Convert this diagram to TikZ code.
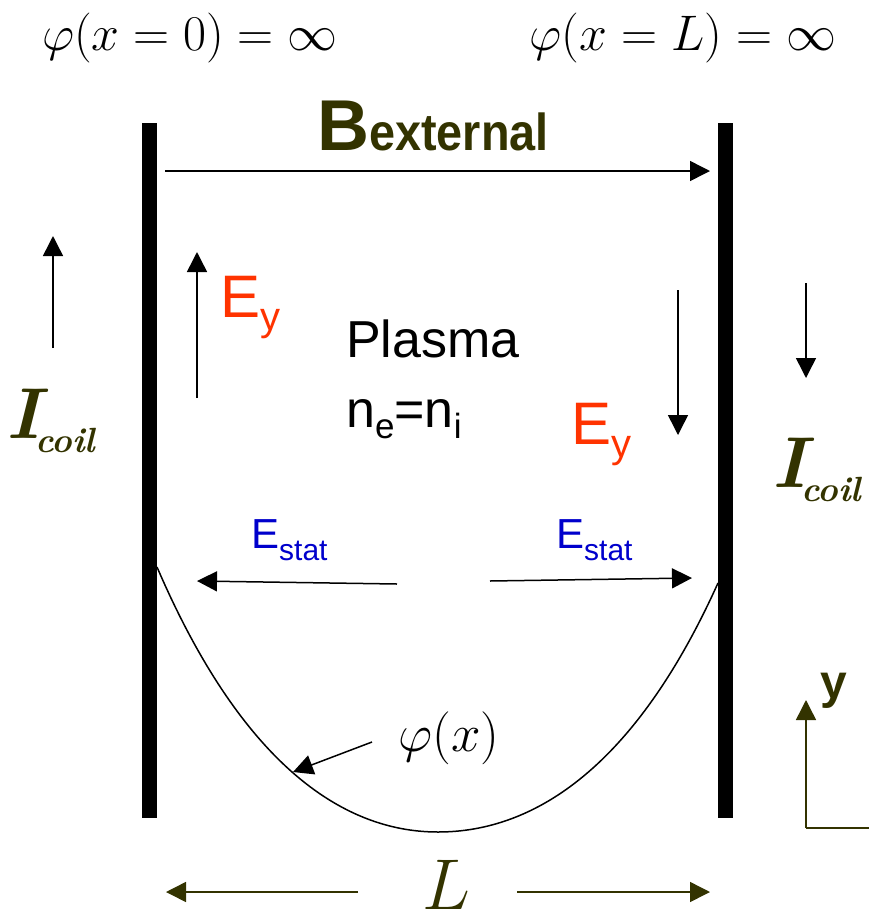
\RequirePackage{fix-cm}
\documentclass[tikz,border=0pt]{standalone}
\usepackage{fontspec}
\usepackage{graphicx}
\usepackage{tikz}
\usepackage{xcolor}
\usetikzlibrary{arrows.meta}

\newfontfamily\arialfont{Liberation Sans}

\begin{document}
\begin{tikzpicture}[x=1pt,y=-1pt,
  arr/.style={-{Triangle[length=20pt,width=20pt]},line width=1.5pt},
  plate/.style={line width=15pt},
  lbl/.style={inner sep=0pt,anchor=base west}]

  % Define colors
  \definecolor{olivedark}{RGB}{51,51,0}
  \definecolor{eyred}{RGB}{255,51,0}
  \definecolor{estatblue}{RGB}{0,0,204}

  \useasboundingbox (0,0) rectangle (869,914);

  % boundary conditions on top
  \node[inner sep=0pt,anchor=base,font=\fontsize{50}{54}\selectfont] (phileft) at (190,50)
    {$\varphi(x=0)=\infty$};
  \node[inner sep=0pt,anchor=base,font=\fontsize{50}{54}\selectfont] (phiright) at (683,50)
    {$\varphi(x=L)=\infty$};

  % the two plates
  \coordinate (pltopl) at (149.5,123);
  \coordinate (plbotl) at (149.5,818);
  \coordinate (pltopr) at (725.5,123);
  \coordinate (plbotr) at (725.5,818);
  \draw[plate] (pltopl) -- (plbotl);
  \draw[plate] (pltopr) -- (plbotr);

  % external field
  \node[lbl,text=olivedark,font=\arialfont\bfseries\fontsize{72}{80}\selectfont] (bext) at (317,150)
    {B\scalebox{0.9}[1]{\fontsize{52}{56}\selectfont external}};
  \coordinate (bstart) at (165,171);
  \coordinate (bend) at (710,171);
  \draw[arr] (bstart) -- (bend);

  % coil currents
  \coordinate (icl1) at (53,348);
  \coordinate (icl2) at (53,236);
  \draw[arr] (icl1) -- (icl2);
  \node[lbl,text=olivedark,font=\bfseries\itshape\fontsize{72}{80}\selectfont] (icoill) at (6,438)
    {I\kern-5pt\raisebox{-14pt}{\fontsize{35}{38}\selectfont coil}};
  \coordinate (icr1) at (806,283);
  \coordinate (icr2) at (806,378);
  \draw[arr] (icr1) -- (icr2);
  \node[lbl,text=olivedark,font=\bfseries\itshape\fontsize{72}{80}\selectfont] (icoilr) at (772,487)
    {I\kern-5pt\raisebox{-14pt}{\fontsize{35}{38}\selectfont coil}};

  % induced fields
  \coordinate (eyl1) at (197,398);
  \coordinate (eyl2) at (197,252);
  \draw[arr] (eyl1) -- (eyl2);
  \node[lbl,text=eyred,font=\arialfont\fontsize{60}{64}\selectfont] (eyleft) at (220,317)
    {E\raisebox{-13pt}{\fontsize{40}{44}\selectfont y}};
  \coordinate (eyr1) at (678,290);
  \coordinate (eyr2) at (678,435);
  \draw[arr] (eyr1) -- (eyr2);
  \node[lbl,text=eyred,font=\arialfont\fontsize{60}{64}\selectfont] (eyright) at (571,444)
    {E\raisebox{-13pt}{\fontsize{40}{44}\selectfont y}};

  % plasma
  \node[lbl,font=\arialfont\fontsize{52}{56}\selectfont] (plasma) at (346,357) {Plasma};
  \node[lbl,font=\arialfont\fontsize{52}{56}\selectfont] (dens) at (346,427)
    {n\raisebox{-11pt}{\fontsize{35}{38}\selectfont e}=n\raisebox{-11pt}{\fontsize{35}{38}\selectfont i}};

  % static fields
  \node[lbl,text=estatblue,font=\arialfont\fontsize{42}{46}\selectfont] (estatl) at (251,548)
    {E\raisebox{-12pt}{\fontsize{30}{34}\selectfont stat}};
  \node[lbl,text=estatblue,font=\arialfont\fontsize{42}{46}\selectfont] (estatr) at (556,548)
    {E\raisebox{-12pt}{\fontsize{30}{34}\selectfont stat}};
  \coordinate (esl1) at (397,584);
  \coordinate (esl2) at (197,581);
  \draw[arr] (esl1) -- (esl2);
  \coordinate (esr1) at (490,581);
  \coordinate (esr2) at (692,578);
  \draw[arr] (esr1) -- (esr2);

  % potential profile
  \coordinate (potl) at (157,567);
  \coordinate (potmin) at (438,832);
  \coordinate (potr) at (718,583);
  \draw[line width=1.5pt] (potl) .. controls (240,760) and (340,832) .. (potmin)
    .. controls (536,832) and (636,765) .. (potr);
  \node[inner sep=0pt,font=\fontsize{53}{57}\selectfont] (philabel) at (449,738) {$\varphi(x)$};
  \coordinate (phiarr1) at (372,742);
  \coordinate (phiarr2) at (293,772);
  \draw[arr] (phiarr1) -- (phiarr2);

  % width of the gap
  \node[inner sep=0pt,anchor=base,text=olivedark,font=\fontsize{72}{76}\selectfont] (length) at (446,909) {$L$};
  \coordinate (lenl1) at (358,892);
  \coordinate (lenl2) at (166,892);
  \coordinate (lenr1) at (517,892);
  \coordinate (lenr2) at (710,892);
  \draw[arr,olivedark] (lenl1) -- (lenl2);
  \draw[arr,olivedark] (lenr1) -- (lenr2);

  % y direction
  \coordinate (axorig) at (806,828);
  \coordinate (axtop) at (806,700);
  \coordinate (axright) at (869,828);
  \draw[arr,olivedark] (axorig) -- (axtop);
  \draw[line width=1.5pt,olivedark] (axorig) -- (axright);
  \node[lbl,text=olivedark,font=\arialfont\bfseries\fontsize{48}{52}\selectfont] (ylabel) at (820,698) {y};

\end{tikzpicture}
\end{document}
